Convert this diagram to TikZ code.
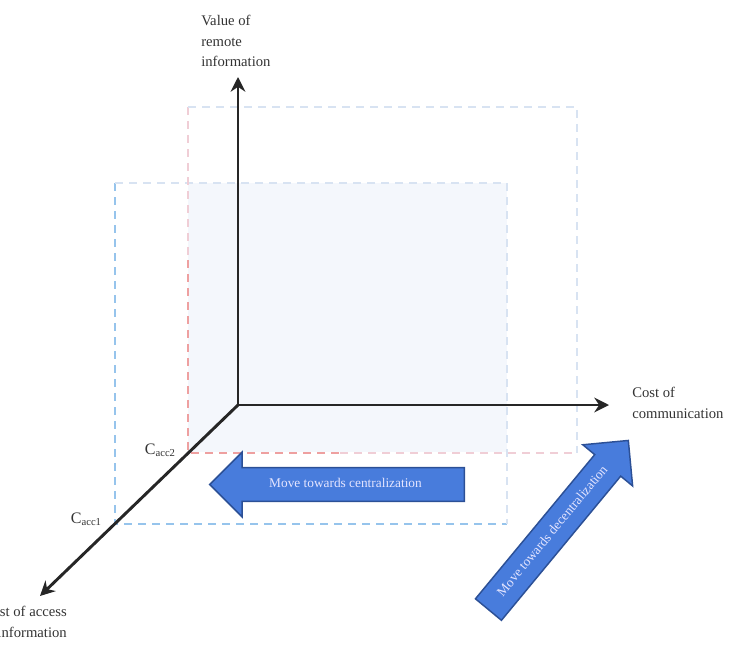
\documentclass[tikz,border=0pt]{standalone}
\usepackage{fontspec}
\setmainfont{Liberation Serif}
\usepackage{tikz}
\usetikzlibrary{arrows.meta,shapes.arrows}

\definecolor{boxblue}{RGB}{150,196,236}
\definecolor{boxpink}{RGB}{238,160,160}
\definecolor{boxpinklt}{RGB}{240,206,214}
\definecolor{boxfaint}{RGB}{216,227,242}
\definecolor{boxfill}{RGB}{244,247,252}
\definecolor{movefill}{RGB}{72,124,220}
\definecolor{moveedge}{RGB}{44,80,150}

\begin{document}
\begin{tikzpicture}[
  x=0.75pt, y=-0.75pt,
  axis/.style={line width=2.2pt, draw=black!85, -{Stealth[length=11pt,width=11pt]}},
  boxedge/.style={line width=1.4pt, dash pattern=on 6pt off 4.5pt},
  axislabel/.style={inner sep=0pt, text=black!80, font=\fontsize{11}{15.5}\selectfont},
  acclabel/.style={inner sep=0pt, text=black!80, font=\fontsize{12}{14}\selectfont},
  move/.style={single arrow, single arrow head extend=11.6pt, single arrow head indent=0pt,
               fill=movefill, draw=moveedge, line width=1.1pt, text=white!90!blue,
               font=\fontsize{10}{12}\selectfont, text height=7pt, text depth=2pt,
               inner ysep=7.6pt, inner xsep=4pt}
]
  \useasboundingbox (0,0) rectangle (741,663);
  \fill[boxfill] (188,183) rectangle (507,452);

  \coordinate (O)    at (238,405);
  \coordinate (vtip) at (238,77);
  \coordinate (htip) at (609,405);
  \coordinate (dtip) at (40,596);
  \coordinate (acc1) at (115,524);
  \coordinate (acc2) at (188,453);

  \draw[boxedge, boxblue]  (115,183) -- (acc1) -- (507,524);
  \draw[boxedge, boxfaint] (115,183) -- (507,183) -- (507,524);
  \draw[boxedge, boxpinklt] (188,107) -- (188,260);
  \draw[boxedge, boxpink]  (188,260) -- (acc2) -- (340,453);
  \draw[boxedge, boxpinklt] (340,453) -- (577,453);
  \draw[boxedge, boxfaint] (188,107) -- (577,107) -- (577,453);

  \draw[axis] (O) -- (vtip);
  \draw[axis] (O) -- (htip);
  \draw[axis] (O) -- (dtip);

  \node[move, shape border rotate=180, minimum height=191pt] (central) at (345.5,484.5)
       {Move towards centralization};
  \node[move, rotate=50.4, minimum height=164.6pt] (decentral) at (553,531.5)
       {Move towards decentralization};

  \node[axislabel, anchor=north west, align=left] (vallab) at (201,15)
       {Value of\\remote\\information};
  \node[axislabel, anchor=north west, align=left] (comlab) at (632,387)
       {Cost of\\communication};
  \node[axislabel, anchor=north east, align=right] (acclab) at (67,606)
       {Cost of access\\information};
  \node[acclabel, anchor=base east] (c2) at (176,454) {C\textsubscript{acc2}};
  \node[acclabel, anchor=base east] (c1) at (102,523) {C\textsubscript{acc1}};
\end{tikzpicture}
\end{document}
